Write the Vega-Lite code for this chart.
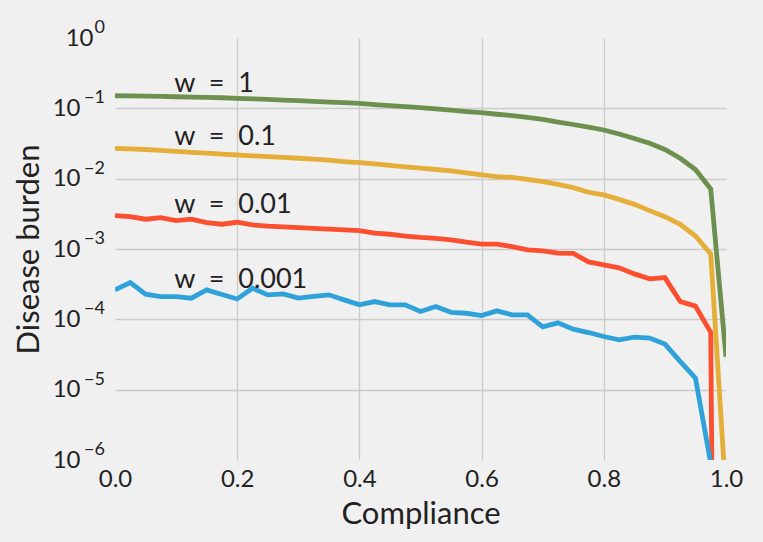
{
  "$schema": "https://vega.github.io/schema/vega-lite/v6.json",
  "autosize": "none",
  "width": 611,
  "height": 422,
  "padding": {"left": 115, "top": 38, "right": 37, "bottom": 82},
  "background": "#f0f0f0",
  "config": {
    "view": {"stroke": null, "fill": "#f0f0f0"},
    "axis": {
      "domain": false,
      "ticks": false,
      "gridColor": "#cbcbcb",
      "gridWidth": 1.3,
      "labelFont": "Lato",
      "labelFontSize": 24,
      "labelColor": "#222222",
      "titleFont": "Lato",
      "titleFontSize": 31,
      "titleFontWeight": "normal",
      "titleColor": "#222222",
      "labelFlush": false
    }
  },
  "datasets": {
    "lines": [
      {"w": "1", "x": 0.000, "y": 0.151}, {"w": "1", "x": 0.025, "y": 0.150}, {"w": "1", "x": 0.050, "y": 0.149}, {"w": "1", "x": 0.075, "y": 0.1476},
      {"w": "1", "x": 0.100, "y": 0.1462}, {"w": "1", "x": 0.125, "y": 0.1447}, {"w": "1", "x": 0.150, "y": 0.1433}, {"w": "1", "x": 0.175, "y": 0.1415},
      {"w": "1", "x": 0.200, "y": 0.1388}, {"w": "1", "x": 0.225, "y": 0.1365}, {"w": "1", "x": 0.250, "y": 0.1338}, {"w": "1", "x": 0.275, "y": 0.1312},
      {"w": "1", "x": 0.300, "y": 0.1286}, {"w": "1", "x": 0.325, "y": 0.1253}, {"w": "1", "x": 0.350, "y": 0.1229}, {"w": "1", "x": 0.375, "y": 0.1202},
      {"w": "1", "x": 0.400, "y": 0.1174}, {"w": "1", "x": 0.425, "y": 0.1129}, {"w": "1", "x": 0.450, "y": 0.1089}, {"w": "1", "x": 0.475, "y": 0.1054},
      {"w": "1", "x": 0.500, "y": 0.1020}, {"w": "1", "x": 0.525, "y": 0.0980}, {"w": "1", "x": 0.550, "y": 0.0940}, {"w": "1", "x": 0.575, "y": 0.0901},
      {"w": "1", "x": 0.600, "y": 0.0866}, {"w": "1", "x": 0.625, "y": 0.0824}, {"w": "1", "x": 0.650, "y": 0.0790}, {"w": "1", "x": 0.675, "y": 0.0745},
      {"w": "1", "x": 0.700, "y": 0.0698}, {"w": "1", "x": 0.725, "y": 0.0639}, {"w": "1", "x": 0.750, "y": 0.0589}, {"w": "1", "x": 0.775, "y": 0.0539},
      {"w": "1", "x": 0.800, "y": 0.0492}, {"w": "1", "x": 0.825, "y": 0.0432}, {"w": "1", "x": 0.850, "y": 0.0373}, {"w": "1", "x": 0.875, "y": 0.0318},
      {"w": "1", "x": 0.900, "y": 0.0260}, {"w": "1", "x": 0.925, "y": 0.0195}, {"w": "1", "x": 0.950, "y": 0.0135}, {"w": "1", "x": 0.975, "y": 0.00714},
      {"w": "1", "x": 1.000, "y": 0.0000293},

      {"w": "0.1", "x": 0.000, "y": 0.0270}, {"w": "0.1", "x": 0.025, "y": 0.0266}, {"w": "0.1", "x": 0.050, "y": 0.0260}, {"w": "0.1", "x": 0.075, "y": 0.0253},
      {"w": "0.1", "x": 0.100, "y": 0.0245}, {"w": "0.1", "x": 0.125, "y": 0.0237}, {"w": "0.1", "x": 0.150, "y": 0.0230}, {"w": "0.1", "x": 0.175, "y": 0.0223},
      {"w": "0.1", "x": 0.200, "y": 0.0217}, {"w": "0.1", "x": 0.225, "y": 0.0211}, {"w": "0.1", "x": 0.250, "y": 0.0206}, {"w": "0.1", "x": 0.275, "y": 0.0201},
      {"w": "0.1", "x": 0.300, "y": 0.0195}, {"w": "0.1", "x": 0.325, "y": 0.0189}, {"w": "0.1", "x": 0.350, "y": 0.0183}, {"w": "0.1", "x": 0.375, "y": 0.0175},
      {"w": "0.1", "x": 0.400, "y": 0.0169}, {"w": "0.1", "x": 0.425, "y": 0.0162}, {"w": "0.1", "x": 0.450, "y": 0.0154}, {"w": "0.1", "x": 0.475, "y": 0.0147},
      {"w": "0.1", "x": 0.500, "y": 0.0141}, {"w": "0.1", "x": 0.525, "y": 0.0135}, {"w": "0.1", "x": 0.550, "y": 0.0129}, {"w": "0.1", "x": 0.575, "y": 0.0121},
      {"w": "0.1", "x": 0.600, "y": 0.0113}, {"w": "0.1", "x": 0.625, "y": 0.0107}, {"w": "0.1", "x": 0.650, "y": 0.0104}, {"w": "0.1", "x": 0.675, "y": 0.00975},
      {"w": "0.1", "x": 0.700, "y": 0.00906}, {"w": "0.1", "x": 0.725, "y": 0.00828}, {"w": "0.1", "x": 0.750, "y": 0.00745}, {"w": "0.1", "x": 0.775, "y": 0.00641},
      {"w": "0.1", "x": 0.800, "y": 0.00587}, {"w": "0.1", "x": 0.825, "y": 0.00507}, {"w": "0.1", "x": 0.850, "y": 0.00431}, {"w": "0.1", "x": 0.875, "y": 0.00351},
      {"w": "0.1", "x": 0.900, "y": 0.00288}, {"w": "0.1", "x": 0.925, "y": 0.00224}, {"w": "0.1", "x": 0.950, "y": 0.00153}, {"w": "0.1", "x": 0.975, "y": 0.00085},
      {"w": "0.1", "x": 1.000, "y": 0.0000003},

      {"w": "0.01", "x": 0.000, "y": 0.00298}, {"w": "0.01", "x": 0.025, "y": 0.00288}, {"w": "0.01", "x": 0.050, "y": 0.00265}, {"w": "0.01", "x": 0.075, "y": 0.00279},
      {"w": "0.01", "x": 0.100, "y": 0.00253}, {"w": "0.01", "x": 0.125, "y": 0.00265}, {"w": "0.01", "x": 0.150, "y": 0.00237}, {"w": "0.01", "x": 0.175, "y": 0.00225},
      {"w": "0.01", "x": 0.200, "y": 0.00240}, {"w": "0.01", "x": 0.225, "y": 0.00220}, {"w": "0.01", "x": 0.250, "y": 0.00211}, {"w": "0.01", "x": 0.275, "y": 0.00206},
      {"w": "0.01", "x": 0.300, "y": 0.00201}, {"w": "0.01", "x": 0.325, "y": 0.00197}, {"w": "0.01", "x": 0.350, "y": 0.00192}, {"w": "0.01", "x": 0.375, "y": 0.00187},
      {"w": "0.01", "x": 0.400, "y": 0.00183}, {"w": "0.01", "x": 0.425, "y": 0.00168}, {"w": "0.01", "x": 0.450, "y": 0.00162}, {"w": "0.01", "x": 0.475, "y": 0.00153},
      {"w": "0.01", "x": 0.500, "y": 0.00146}, {"w": "0.01", "x": 0.525, "y": 0.00142}, {"w": "0.01", "x": 0.550, "y": 0.00135}, {"w": "0.01", "x": 0.575, "y": 0.00125},
      {"w": "0.01", "x": 0.600, "y": 0.00117}, {"w": "0.01", "x": 0.625, "y": 0.00117}, {"w": "0.01", "x": 0.650, "y": 0.00108}, {"w": "0.01", "x": 0.675, "y": 0.000971},
      {"w": "0.01", "x": 0.700, "y": 0.000940}, {"w": "0.01", "x": 0.725, "y": 0.000871}, {"w": "0.01", "x": 0.750, "y": 0.000865}, {"w": "0.01", "x": 0.775, "y": 0.000656},
      {"w": "0.01", "x": 0.800, "y": 0.000594}, {"w": "0.01", "x": 0.825, "y": 0.000539}, {"w": "0.01", "x": 0.850, "y": 0.000443}, {"w": "0.01", "x": 0.875, "y": 0.000376},
      {"w": "0.01", "x": 0.900, "y": 0.000392}, {"w": "0.01", "x": 0.925, "y": 0.000179}, {"w": "0.01", "x": 0.950, "y": 0.000154}, {"w": "0.01", "x": 0.975, "y": 0.0000653},
      {"w": "0.01", "x": 1.000, "y": 1e-30},

      {"w": "0.001", "x": 0.000, "y": 0.000262}, {"w": "0.001", "x": 0.025, "y": 0.000333}, {"w": "0.001", "x": 0.050, "y": 0.000228}, {"w": "0.001", "x": 0.075, "y": 0.000211},
      {"w": "0.001", "x": 0.100, "y": 0.000211}, {"w": "0.001", "x": 0.125, "y": 0.000200}, {"w": "0.001", "x": 0.150, "y": 0.000262}, {"w": "0.001", "x": 0.175, "y": 0.000226},
      {"w": "0.001", "x": 0.200, "y": 0.000195}, {"w": "0.001", "x": 0.225, "y": 0.000277}, {"w": "0.001", "x": 0.250, "y": 0.000223}, {"w": "0.001", "x": 0.275, "y": 0.000230},
      {"w": "0.001", "x": 0.300, "y": 0.000200}, {"w": "0.001", "x": 0.325, "y": 0.000212}, {"w": "0.001", "x": 0.350, "y": 0.000223}, {"w": "0.001", "x": 0.375, "y": 0.000189},
      {"w": "0.001", "x": 0.400, "y": 0.000161}, {"w": "0.001", "x": 0.425, "y": 0.000179}, {"w": "0.001", "x": 0.450, "y": 0.000161}, {"w": "0.001", "x": 0.475, "y": 0.000161},
      {"w": "0.001", "x": 0.500, "y": 0.000129}, {"w": "0.001", "x": 0.525, "y": 0.000152}, {"w": "0.001", "x": 0.550, "y": 0.000126}, {"w": "0.001", "x": 0.575, "y": 0.000122},
      {"w": "0.001", "x": 0.600, "y": 0.000113}, {"w": "0.001", "x": 0.625, "y": 0.000132}, {"w": "0.001", "x": 0.650, "y": 0.000116}, {"w": "0.001", "x": 0.675, "y": 0.000116},
      {"w": "0.001", "x": 0.700, "y": 0.0000782}, {"w": "0.001", "x": 0.725, "y": 0.0000891}, {"w": "0.001", "x": 0.750, "y": 0.0000726}, {"w": "0.001", "x": 0.775, "y": 0.0000649},
      {"w": "0.001", "x": 0.800, "y": 0.0000570}, {"w": "0.001", "x": 0.825, "y": 0.0000512}, {"w": "0.001", "x": 0.850, "y": 0.0000558}, {"w": "0.001", "x": 0.875, "y": 0.0000541},
      {"w": "0.001", "x": 0.900, "y": 0.0000445}, {"w": "0.001", "x": 0.925, "y": 0.0000252}, {"w": "0.001", "x": 0.950, "y": 0.0000146}, {"w": "0.001", "x": 0.975, "y": 0.0000009}
    ],
    "labels": [
      {"w": "1", "label": "w\u00a0 =\u00a0 1", "x": 0.097, "y": 0.172},
      {"w": "0.1", "label": "w\u00a0 =\u00a0 0.1", "x": 0.097, "y": 0.0301},
      {"w": "0.01", "label": "w\u00a0 =\u00a0 0.01", "x": 0.097, "y": 0.0032},
      {"w": "0.001", "label": "w\u00a0 =\u00a0 0.001", "x": 0.097, "y": 0.000277}
    ],
    "exponents": [
      {"x": 0, "y": 1, "e": "0"},
      {"x": 0, "y": 0.1, "e": "−1"},
      {"x": 0, "y": 0.01, "e": "−2"},
      {"x": 0, "y": 0.001, "e": "−3"},
      {"x": 0, "y": 0.0001, "e": "−4"},
      {"x": 0, "y": 0.00001, "e": "−5"},
      {"x": 0, "y": 0.000001, "e": "−6"}
    ]
  },
  "layer": [
    {
      "data": {"name": "lines"},
      "mark": {"type": "line", "strokeWidth": 4.8, "clip": true},
      "encoding": {
        "x": {
          "field": "x", "type": "quantitative",
          "scale": {"domain": [0, 1], "nice": false, "zero": false},
          "axis": {
            "values": [0, 0.2, 0.4, 0.6, 0.8, 1.0],
            "format": ".1f",
            "title": "Compliance",
            "labelPadding": 7,
            "titlePadding": 8,
            "gridOpacity": {"condition": {"test": "datum.value <= 0.001 || datum.value >= 0.999", "value": 0}, "value": 1}
          }
        },
        "y": {
          "field": "y", "type": "quantitative",
          "scale": {"type": "log", "domain": [0.000001, 1], "nice": false},
          "axis": {
            "values": [0.000001, 0.00001, 0.0001, 0.001, 0.01, 0.1, 1],
            "labelExpr": "'10'",
            "title": "Disease burden",
            "labelPadding": {"condition": {"test": "datum.value >= 0.99", "value": 22}, "value": 35},
            "titlePadding": 7,
            "gridOpacity": {"condition": {"test": "datum.value <= 0.0000011 || datum.value >= 0.99", "value": 0}, "value": 1}
          }
        },
        "color": {
          "field": "w", "type": "nominal",
          "scale": {"domain": ["0.001", "0.01", "0.1", "1"], "range": ["#30a2da", "#fc4f30", "#e5ae38", "#6d904f"]},
          "legend": null
        },
        "order": {"field": "x", "type": "quantitative"}
      }
    },
    {
      "data": {"name": "exponents"},
      "mark": {"type": "text", "align": "right", "baseline": "alphabetic", "dx": -10, "dy": -5, "font": "Lato", "fontSize": 18, "color": "#222222"},
      "encoding": {
        "x": {"field": "x", "type": "quantitative"},
        "y": {"field": "y", "type": "quantitative"},
        "text": {"field": "e"}
      }
    },
    {
      "data": {"name": "labels"},
      "mark": {"type": "text", "align": "left", "baseline": "alphabetic", "font": "Lato", "fontSize": 27, "color": "#222222"},
      "encoding": {
        "x": {"field": "x", "type": "quantitative"},
        "y": {"field": "y", "type": "quantitative"},
        "text": {"field": "label"}
      }
    }
  ]
}
